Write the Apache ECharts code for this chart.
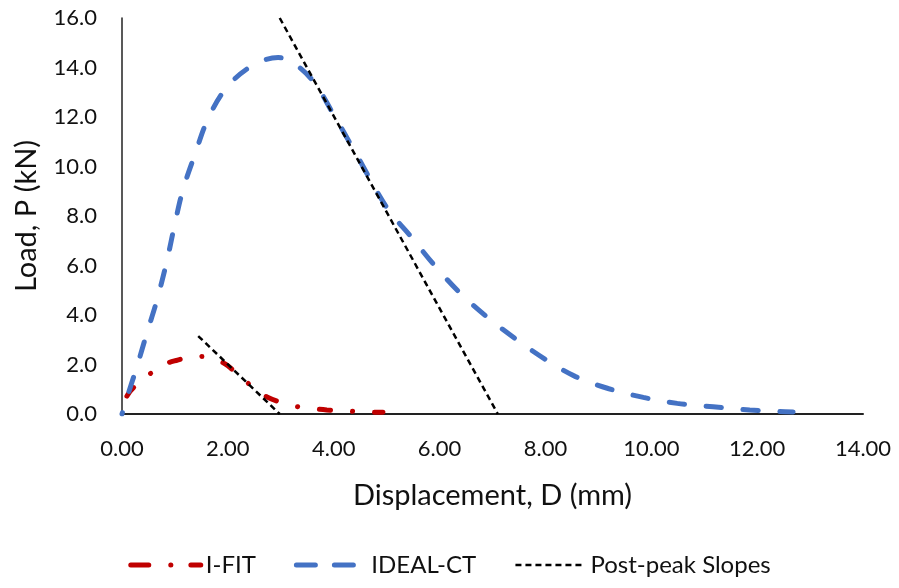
<!DOCTYPE html>
<html>
<head>
<meta charset="utf-8">
<script src="https://cdn.jsdelivr.net/npm/echarts@6/dist/echarts.min.js"></script>
<style>
  html, body { margin: 0; padding: 0; background: #fff; }
  #chart { width: 899px; height: 588px; }
</style>
</head>
<body>
<div id="chart"></div>
<script>
// data kurva (displacement mm, load kN)
const ifitX = [0, 0.1, 0.36, 0.78, 1.05, 1.3, 1.55, 1.8, 2.0, 2.23, 2.5, 2.74, 3.17, 3.53, 3.87, 4.23, 4.63, 4.93];
const ifitY = [0, 0.75, 1.33, 1.98, 2.18, 2.3, 2.32, 2.18, 1.95, 1.5, 1.05, 0.69, 0.36, 0.24, 0.16, 0.12, 0.08, 0.07];

const idealX = [0, 0.1, 0.28, 0.47, 0.66, 0.85, 1.0, 1.15, 1.38, 1.62, 1.98, 2.48, 2.95, 3.23, 3.63, 3.97, 4.4, 5.0, 5.47, 5.91, 6.39, 6.89, 7.42, 7.99, 8.57, 9.2, 9.85, 10.49, 11.17, 11.86, 12.53, 12.68];
const idealY = [0, 0.7, 1.9, 3.27, 4.6, 6.2, 7.7, 9.05, 10.5, 11.9, 13.2, 14.1, 14.4, 14.2, 13.4, 12.2, 10.6, 8.35, 7.14, 5.99, 4.88, 3.93, 3.06, 2.22, 1.51, 1.02, 0.67, 0.43, 0.29, 0.16, 0.09, 0.08];

// garis post-peak
const slope1X = [2.98, 7.1];
const slope1Y = [16, 0];
const slope2X = [1.44, 2.98];
const slope2Y = [3.15, 0];

const xTicks = [0, 2, 4, 6, 8, 10, 12, 14];
const yTicks = [0, 2, 4, 6, 8, 10, 12, 14, 16];

function pairs(xs, ys) {
    return xs.map((x, i) => [x, ys[i]]);
}

const chart = echarts.init(document.getElementById('chart'));
const font = 'Lato, "Open Sans", sans-serif';

const redLine = { color: '#c00000', width: 5, cap: 'round', type: [11, 22, 0.1, 22], dashOffset: 36.6 };
const blueLine = { color: '#4472c4', width: 5, cap: 'round', type: [15, 22], dashOffset: 13.5 };
const blackLine = { color: '#000', width: 2.5, type: [6, 4] };

const option = {
    animation: false,
    textStyle: { fontFamily: font },
    grid: { left: 122, right: 36, top: 18, bottom: 174 },
    xAxis: {
        type: 'value',
        min: xTicks[0],
        max: xTicks[xTicks.length - 1],
        interval: 2,
        name: 'Displacement, D (mm)',
        nameLocation: 'middle',
        nameGap: 67,
        nameTextStyle: { fontSize: 29, color: '#111', fontFamily: font },
        axisLine: { lineStyle: { color: '#222', width: 2 } },
        axisTick: { show: false },
        splitLine: { show: false },
        axisLabel: { fontSize: 22, color: '#111', margin: 24, formatter: v => v.toFixed(2) }
    },
    yAxis: {
        type: 'value',
        min: yTicks[0],
        max: yTicks[yTicks.length - 1],
        interval: 2,
        name: 'Load, P (kN)',
        nameLocation: 'middle',
        nameGap: 81,
        nameTextStyle: { fontSize: 29, color: '#111', fontFamily: font },
        axisLine: { show: true, lineStyle: { color: '#222', width: 1.5 } },
        axisTick: { show: false },
        splitLine: { show: false },
        axisLabel: { fontSize: 22, color: '#111', margin: 25, formatter: v => v.toFixed(1) }
    },
    legend: {
        bottom: 6,
        left: 'center',
        itemWidth: 70,
        itemHeight: 14,
        itemGap: 38,
        itemStyle: { opacity: 0 },
        textStyle: { fontSize: 24, color: '#111', fontFamily: font },
        data: [
            { name: 'I-FIT', lineStyle: Object.assign({}, redLine, { type: [18, 22, 0.1, 20], dashOffset: 0 }) },
            { name: 'IDEAL-CT', lineStyle: Object.assign({}, blueLine, { type: [19, 19], dashOffset: 0 }) },
            { name: 'Post-peak Slopes', lineStyle: blackLine }
        ]
    },
    series: [
        {
            name: 'I-FIT',
            type: 'line',
            smooth: 0.35,
            symbol: 'none',
            data: pairs(ifitX, ifitY),
            itemStyle: { color: '#c00000' },
            lineStyle: redLine
        },
        {
            name: 'IDEAL-CT',
            type: 'line',
            smooth: 0.35,
            symbol: 'none',
            data: pairs(idealX, idealY),
            itemStyle: { color: '#4472c4' },
            lineStyle: blueLine
        },
        {
            name: 'Post-peak Slopes',
            type: 'line',
            symbol: 'none',
            data: pairs(slope1X, slope1Y),
            itemStyle: { color: '#000' },
            lineStyle: blackLine
        },
        {
            name: 'Post-peak Slopes',
            type: 'line',
            symbol: 'none',
            data: pairs(slope2X, slope2Y),
            itemStyle: { color: '#000' },
            lineStyle: blackLine
        }
    ]
};

chart.setOption(option);
</script>
</body>
</html>
